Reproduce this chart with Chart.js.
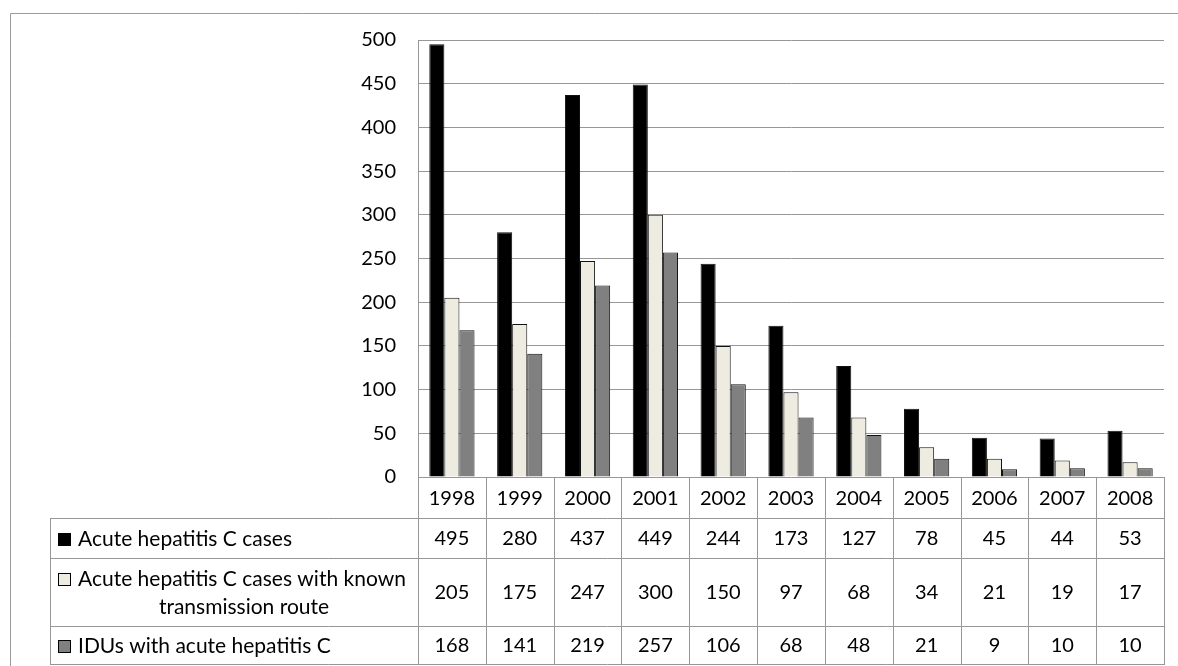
<!DOCTYPE html>
<html>
<head>
<meta charset="utf-8">
<script src="https://cdn.jsdelivr.net/npm/chart.js@4"></script>
<style>
  html, body { margin: 0; padding: 0; background: #ffffff; }
  #wrap { position: relative; width: 1178px; height: 666px; }
</style>
</head>
<body>
<div id="wrap"><canvas id="c" width="1178" height="666"></canvas></div>
<script>
// Reported cases per year
const years = ['1998', '1999', '2000', '2001', '2002', '2003', '2004', '2005', '2006', '2007', '2008'];
const acuteCases = [495, 280, 437, 449, 244, 173, 127, 78, 45, 44, 53];
const knownRoute = [205, 175, 247, 300, 150, 97, 68, 34, 21, 19, 17];
const idus = [168, 141, 219, 257, 106, 68, 48, 21, 9, 10, 10];

const seriesNames = [
  'Acute hepatitis C cases',
  'Acute hepatitis C cases with known transmission route',
  'IDUs with acute hepatitis C'
];
// Legend cell text, wrapped the way it is shown in the data table
const legendLines = [
  ['Acute hepatitis C cases'],
  ['Acute hepatitis C cases with known', 'transmission route'],
  ['IDUs with acute hepatitis C']
];
const seriesValues = [acuteCases, knownRoute, idus];
const seriesColors = ['#000000', '#EEECE1', '#808080'];

const FAMILY = 'Lato, "Open Sans", sans-serif';
const NUM_FONT = '20px ' + FAMILY;
const LABEL_FONT = '21px ' + FAMILY;
const LINE = '#979797';

// Data table under the plot, using the category scale for column positions
const dataTablePlugin = {
  id: 'dataTable',
  afterDraw(chart) {
    const ctx = chart.ctx;
    const area = chart.chartArea;
    const xs = chart.scales.x;
    const n = years.length;
    const colW = area.width / n;
    const tableLeft = 50;
    const rowTops = [area.bottom, area.bottom + 41, area.bottom + 81, area.bottom + 149, area.bottom + 187];

    ctx.save();
    // outer chart frame
    ctx.strokeStyle = '#9a9a9a';
    ctx.lineWidth = 1;
    ctx.beginPath();
    ctx.moveTo(10.5, 666);
    ctx.lineTo(10.5, 13.5);
    ctx.lineTo(1178, 13.5);
    ctx.stroke();

    ctx.strokeStyle = LINE;
    ctx.beginPath();
    // horizontal table rules
    for (let r = 1; r < rowTops.length; r++) {
      const y = Math.round(rowTops[r]) + 0.5;
      ctx.moveTo(tableLeft, y);
      ctx.lineTo(area.right + 1, y);
    }
    // vertical rules between columns
    for (let i = 0; i <= n; i++) {
      const x = Math.round(area.left + i * colW) + 0.5;
      ctx.moveTo(x, rowTops[0]);
      ctx.lineTo(x, rowTops[4]);
    }
    // left edge of the legend column
    ctx.moveTo(tableLeft + 0.5, rowTops[1]);
    ctx.lineTo(tableLeft + 0.5, rowTops[4]);
    ctx.stroke();

    ctx.fillStyle = '#000';
    ctx.font = NUM_FONT;
    ctx.textAlign = 'center';
    ctx.textBaseline = 'middle';
    // year header row
    years.forEach((yr, i) => {
      ctx.fillText(yr, xs.getPixelForValue(i), (rowTops[0] + rowTops[1]) / 2 + 1);
    });
    // value rows
    seriesValues.forEach((vals, s) => {
      const cy = (rowTops[s + 1] + rowTops[s + 2]) / 2 + 1;
      vals.forEach((v, i) => {
        ctx.fillText(String(v), xs.getPixelForValue(i), cy);
      });
    });

    // legend cells with swatches
    ctx.font = LABEL_FONT;
    const swX = 58, sw = 13, txtX = 78;
    seriesNames.forEach((name, s) => {
      const top = rowTops[s + 1], bot = rowTops[s + 2];
      const lines = legendLines[s];
      const lh = 28;
      const firstY = (top + bot) / 2 - (lines.length - 1) * lh / 2 + 1;
      const sy = Math.round(firstY - sw / 2);
      ctx.fillStyle = seriesColors[s];
      ctx.fillRect(swX, sy, sw, sw);
      ctx.strokeStyle = '#000';
      ctx.strokeRect(swX + 0.5, sy + 0.5, sw - 1, sw - 1);
      ctx.fillStyle = '#000';
      ctx.textAlign = 'left';
      ctx.fillText(lines[0], txtX, firstY);
      for (let k = 1; k < lines.length; k++) {
        ctx.textAlign = 'center';
        ctx.fillText(lines[k], 244, firstY + k * lh);
      }
    });
    ctx.restore();
  }
};

new Chart(document.getElementById('c'), {
  type: 'bar',
  data: {
    labels: years,
    datasets: seriesValues.map((vals, s) => ({
      label: seriesNames[s],
      data: vals,
      backgroundColor: seriesColors[s],
      borderColor: '#111111',
      borderWidth: 1,
      categoryPercentage: 0.667,
      barPercentage: 1.0
    }))
  },
  options: {
    responsive: false,
    animation: false,
    devicePixelRatio: 1,
    layout: { padding: { top: 40, right: 14, bottom: 189, left: 0 } },
    plugins: {
      legend: { display: false },
      tooltip: { enabled: false }
    },
    scales: {
      x: { display: false },
      y: {
        min: 0,
        max: 500,
        afterFit(scale) { scale.width = 418; },
        ticks: {
          stepSize: 50,
          padding: 22,
          color: '#000',
          font: { family: FAMILY, size: 20 }
        },
        grid: { color: LINE, lineWidth: 1, drawTicks: false },
        border: { display: true, color: LINE }
      }
    }
  },
  plugins: [dataTablePlugin]
});
</script>
</body>
</html>
